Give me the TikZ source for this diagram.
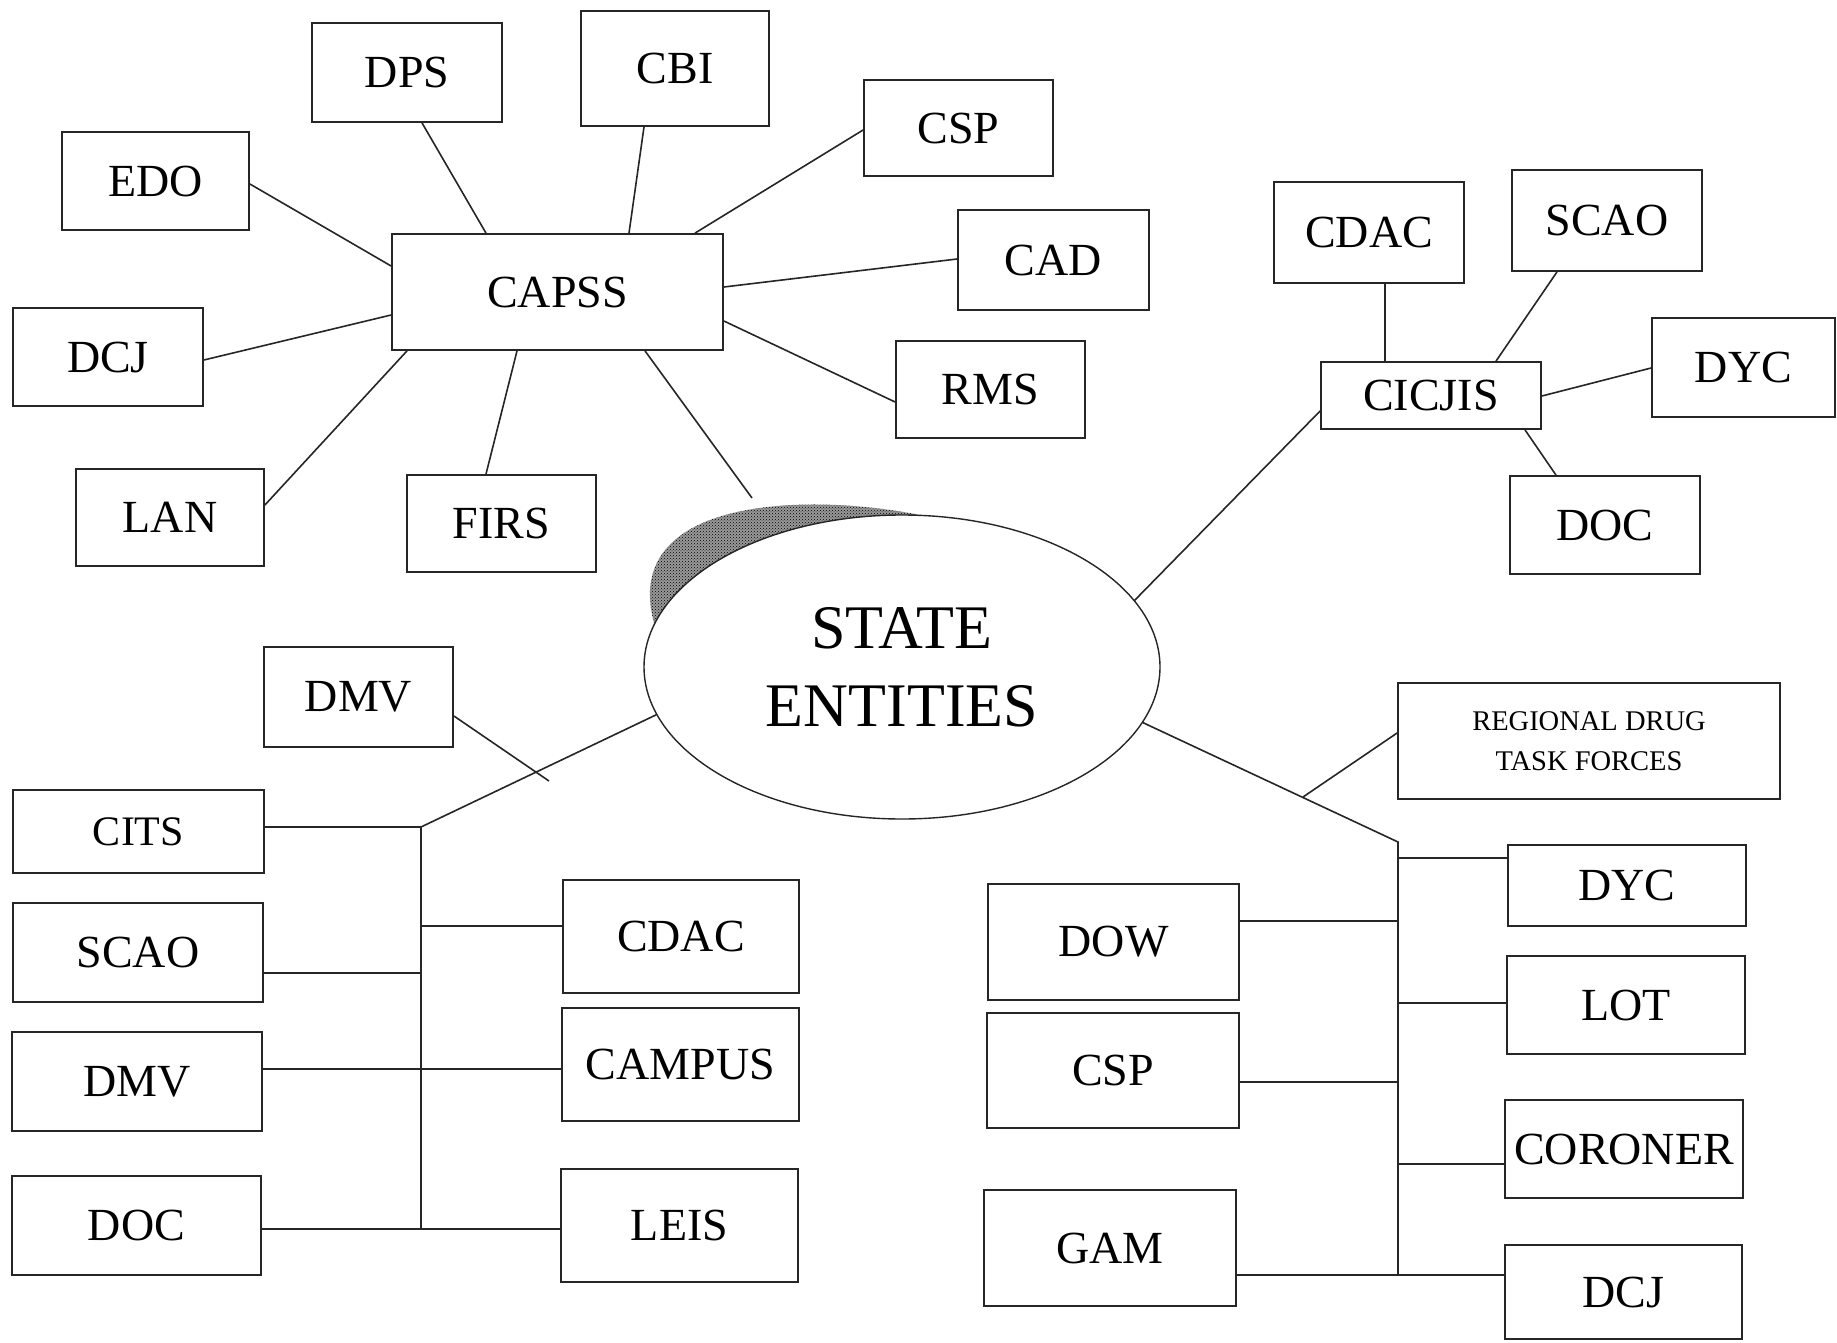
\documentclass[tikz,border=0pt]{standalone}
\usepackage{fontspec}
\setmainfont{Liberation Serif}
\usetikzlibrary{shapes.geometric,backgrounds,patterns}
\begin{document}
\begin{tikzpicture}[x=1pt,y=-1pt,
  box/.style={draw=black!85, line width=1.8pt, rectangle, inner sep=0pt,
              font=\fontsize{46}{52}\selectfont},
  sz/.style 2 args={minimum width=#1, minimum height=#2},
  link/.style={draw=black!85, line width=1.6pt}]

\useasboundingbox (0,0) rectangle (1837,1343);

% ---------------- central entity ----------------
\node[ellipse, draw=black!85, line width=1.4pt, fill=white, inner sep=0pt,
      minimum width=516, minimum height=304, align=center,
      font=\fontsize{62}{78}\selectfont] (se) at (902,667) {STATE\\ENTITIES};

% crescent shadow on the upper left of the ellipse
\begin{scope}[on background layer]
  \fill[white] (0,0) rectangle (1837,1343);
  \fill[black!40] (se.170) .. controls (620,499) and (801,492) .. (se.84) -- (se.center) -- cycle;
  \fill[pattern=crosshatch dots, pattern color=black]
       (se.170) .. controls (620,499) and (801,492) .. (se.84) -- (se.center) -- cycle;
\end{scope}

% ---------------- CAPSS cluster ----------------
\node[box, sz={331}{116}] (capss) at (557.5,292) {CAPSS};
\node[box, sz={190}{99}]  (dps)   at (407,72.5)  {DPS};
\node[box, sz={188}{115}] (cbi)   at (675,68.5)  {CBI};
\node[box, sz={187}{98}]  (edo)   at (155.5,181) {EDO};
\node[box, sz={190}{98}]  (dcj)   at (108,357)   {DCJ};
\node[box, sz={188}{97}]  (lan)   at (170,517.5) {LAN};
\node[box, sz={189}{97}]  (firs)  at (501.5,523.5) {FIRS};
\node[box, sz={189}{96}]  (csp)   at (958.5,128) {CSP};
\node[box, sz={191}{100}] (cad)   at (1053.5,260) {CAD};
\node[box, sz={189}{97}]  (rms)   at (990.5,389.5) {RMS};
\coordinate (shadowtip) at (752,498);

\path[link] (edo.east |- 0,184) -- (capss.west |- 0,266);
\path[link] (dps.south -| 422,0) -- (capss.north -| 486,0);
\path[link] (cbi.south -| 644,0) -- (capss.north -| 629,0);
\path[link] (csp.west |- 0,130) -- (capss.north -| 695,0);
\path[link] (cad.west |- 0,259) -- (capss.east |- 0,287);
\path[link] (rms.west |- 0,402) -- (capss.east |- 0,321);
\path[link] (dcj.east |- 0,360) -- (capss.west |- 0,315);
\path[link] (lan.east |- 0,505) -- (capss.south -| 407,0);
\path[link] (firs.north -| 486,0) -- (capss.south -| 517,0);
\path[link] (capss.south -| 645,0) -- (shadowtip);

% ---------------- CICJIS cluster ----------------
\node[box, sz={220}{67}]  (cicjis) at (1431,395.5) {CICJIS};
\node[box, sz={190}{101}] (cdac)   at (1369,232.5) {CDAC};
\node[box, sz={190}{101}] (scao)   at (1607,220.5) {SCAO};
\node[box, sz={183}{99}]  (dyc)    at (1743.5,367.5) {DYC};
\node[box, sz={190}{98}]  (doc)    at (1605,525)   {DOC};

\path[link] (cdac.south -| 1385,0) -- (cicjis.north -| 1385,0);
\path[link] (scao.south -| 1557,0) -- (cicjis.north -| 1496,0);
\path[link] (dyc.west |- 0,368) -- (cicjis.east |- 0,396);
\path[link] (cicjis.south -| 1525,0) -- (doc.north -| 1556,0);
\path[link] (cicjis.west |- 0,411) -- (se.16.7);

% ---------------- lower left group ----------------
\node[box, sz={189}{100}] (dmva)   at (358.5,697)   {DMV};
\node[box, sz={251}{83}, font=\fontsize{42}{48}\selectfont] (cits) at (138.5,831.5) {CITS};
\node[box, sz={250}{99}]  (scaob)  at (138,952.5)   {SCAO};
\node[box, sz={250}{99}]  (dmvb)   at (137,1081.5)  {DMV};
\node[box, sz={249}{99}]  (docb)   at (136.5,1225.5) {DOC};
\node[box, sz={236}{113}] (cdacb)  at (681,936.5)   {CDAC};
\node[box, sz={237}{113}] (campus) at (680.5,1064.5) {CAMPUS};
\node[box, sz={237}{113}] (leis)   at (679.5,1225.5) {LEIS};

\coordinate (L0) at (421,827);
\coordinate (L1) at (421,1229);
\coordinate (dmvtip) at (549,781);

\path[link] (se.191.9) -- (L0) -- (L1);
\path[link] (dmva.east |- 0,716) -- (dmvtip);
\path[link] (cits.east |- L0) -- (L0);
\path[link] (scaob.east |- 0,973) -- (L0 |- 0,973);
\path[link] (L0 |- 0,926) -- (cdacb.west |- 0,926);
\path[link] (dmvb.east |- 0,1069) -- (campus.west |- 0,1069);
\path[link] (docb.east |- L1) -- (leis.west |- L1);

% ---------------- lower right group ----------------
\node[box, sz={382}{116}, align=center, font=\fontsize{28.5}{40}\selectfont]
      (rdtf) at (1589,741) {REGIONAL DRUG\\TASK FORCES};
\node[box, sz={238}{81}]  (dycb)    at (1627,885.5) {DYC};
\node[box, sz={238}{98}]  (lot)     at (1626,1005)  {LOT};
\node[box, sz={238}{98}]  (coroner) at (1624,1149)  {CORONER};
\node[box, sz={237}{94}]  (dcjb)    at (1623.5,1292) {DCJ};
\node[box, sz={251}{116}] (dow)     at (1113.5,942) {DOW};
\node[box, sz={252}{115}] (cspb)    at (1113,1070.5) {CSP};
\node[box, sz={252}{116}] (gam)     at (1110,1248)  {GAM};

\coordinate (R0) at (1398,842);
\coordinate (R1) at (1398,1275);
\coordinate (rdtip) at (1303,797);

\path[link] (se.-13.6) -- (R0) -- (R1);
\path[link] (rdtf.west |- 0,733) -- (rdtip);
\path[link] (R0 |- 0,858) -- (dycb.west |- 0,858);
\path[link] (dow.east |- 0,921) -- (R0 |- 0,921);
\path[link] (R0 |- 0,1003) -- (lot.west |- 0,1003);
\path[link] (cspb.east |- 0,1082) -- (R0 |- 0,1082);
\path[link] (R0 |- 0,1164) -- (coroner.west |- 0,1164);
\path[link] (gam.east |- R1) -- (dcjb.west |- R1);

\end{tikzpicture}
\end{document}
